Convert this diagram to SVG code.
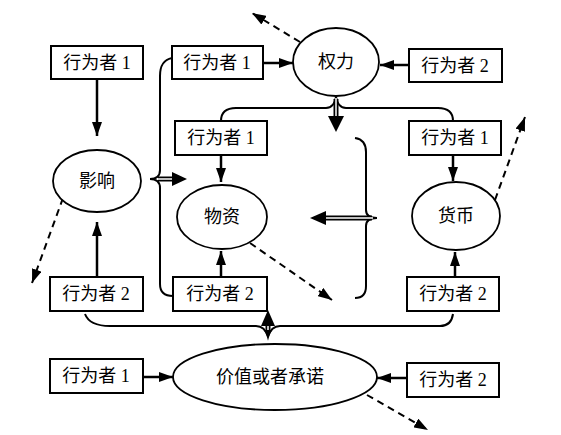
<svg xmlns="http://www.w3.org/2000/svg" width="561" height="435" viewBox="0 0 561 435">
<style>
rect.b{fill:#fff;stroke:#000;stroke-width:2}
ellipse.e{fill:#fff;stroke:#000;stroke-width:1.8}
text{font-family:"Liberation Serif","Noto Sans CJK SC",serif;font-size:18px;fill:#000;text-anchor:middle}
.a{stroke:#000;stroke-width:2.5;fill:none;marker-end:url(#ah)}
.d{stroke:#000;stroke-width:2;fill:none;stroke-dasharray:7,5;marker-end:url(#ah)}
.br{stroke:#000;stroke-width:2;fill:none}
.dbl{stroke:#000;stroke-width:5;fill:none}
.dbi{stroke:#fff;stroke-width:1.5;fill:none}
</style>
<defs>
<marker id="ah" viewBox="0 0 14 10" refX="14" refY="5" markerWidth="14" markerHeight="10" markerUnits="userSpaceOnUse" orient="auto"><path d="M0,0 L14,5 L0,10 z" fill="#000"/></marker>
</defs>
<rect width="561" height="435" fill="#fff"/>
<g id="connectors">
<line class="a" x1="97" y1="79" x2="97" y2="136"/>
<line class="a" x1="97" y1="277" x2="97" y2="222"/>
<line class="a" x1="263" y1="63" x2="293" y2="63"/>
<line class="a" x1="409" y1="65" x2="380" y2="65"/>
<line class="a" x1="221" y1="155" x2="221" y2="182"/>
<line class="a" x1="453" y1="155" x2="453" y2="181"/>
<line class="a" x1="221" y1="277" x2="221" y2="251"/>
<line class="a" x1="455" y1="277" x2="455" y2="252"/>
<line class="a" x1="143" y1="377" x2="173" y2="377"/>
<line class="a" x1="407" y1="378" x2="377" y2="378"/>
<line class="d" x1="300" y1="42" x2="252" y2="13"/>
<line class="d" x1="63" y1="198" x2="32" y2="283"/>
<line class="d" x1="250" y1="243" x2="332" y2="300"/>
<line class="d" x1="495" y1="200" x2="525" y2="117"/>
<line class="d" x1="367" y1="395" x2="428" y2="430"/>
<path class="br" d="M172,58 C163,60 160,66 160,76 L160,170 C160,176 156,179 150,179 C156,179 160,182 160,188 L160,284 C160,292 164,296 173,296"/>
<path class="br" d="M221,121 C221,112 226,108 236,108 L326,108 C331,108 335,104 336,97 C337,104 341,108 346,108 L438,108 C448,108 453,112 453,121"/>
<path class="br" d="M355,138 C362,139 366,143 366,152 L366,210 C366,215 370,218 377,218 C370,218 366,221 366,226 L366,286 C366,294 362,298 355,298"/>
<path class="br" d="M85,314 C88,322 96,326 110,326 L256,326 C262,326 266,330 268,337 C270,330 274,326 280,326 L440,326 C448,326 452,321 453,314"/>
<path class="dbl" d="M158,179 L173,179"/><path class="dbi" d="M157,179 L174,179"/>
<path d="M172,172 L187,179 L172,186 z" fill="#000"/>
<path class="dbl" d="M336,99 L336,118"/><path class="dbi" d="M336,98 L336,119"/>
<path d="M328,116 L336,132 L344,116 z" fill="#000"/>
<path class="dbl" d="M372,218 L325,218"/><path class="dbi" d="M373,218 L324,218"/>
<path d="M326,211 L310,218 L326,225 z" fill="#000"/>
<path class="dbl" d="M268,324 L268,332"/><path class="dbi" d="M268,323 L268,333"/>
<path d="M261,326 L268,310 L275,326 z" fill="#000"/>
<path d="M264,330 L268,338 L272,330 z" fill="#000"/>
</g>
<g id="actor1-a"><rect class="b" x="51" y="46" width="92" height="33"/><text x="97" y="69">行为者 1</text></g>
<g id="actor1-b"><rect class="b" x="172" y="46" width="91" height="33"/><text x="217" y="69">行为者 1</text></g>
<g id="power"><ellipse class="e" cx="336" cy="62" rx="43" ry="34"/><text x="336" y="68">权力</text></g>
<g id="actor2-c"><rect class="b" x="409" y="49" width="93" height="33"/><text x="455" y="72">行为者 2</text></g>
<g id="actor1-d"><rect class="b" x="175" y="121" width="92" height="34"/><text x="221" y="144">行为者 1</text></g>
<g id="actor1-e"><rect class="b" x="409" y="121" width="92" height="34"/><text x="455" y="144">行为者 1</text></g>
<g id="influence"><ellipse class="e" cx="97" cy="181" rx="44" ry="31"/><text x="97" y="187">影响</text></g>
<g id="goods"><ellipse class="e" cx="222" cy="217" rx="45" ry="32"/><text x="222" y="223">物资</text></g>
<g id="money"><ellipse class="e" cx="456" cy="216" rx="44" ry="34"/><text x="456" y="222">货币</text></g>
<g id="actor2-f"><rect class="b" x="50" y="277" width="93" height="34"/><text x="96" y="300">行为者 2</text></g>
<g id="actor2-g"><rect class="b" x="173" y="277" width="94" height="34"/><text x="220" y="300">行为者 2</text></g>
<g id="actor2-h"><rect class="b" x="407" y="277" width="92" height="34"/><text x="453" y="300">行为者 2</text></g>
<g id="actor1-i"><rect class="b" x="50" y="359" width="93" height="34"/><text x="96" y="382">行为者 1</text></g>
<g id="value"><ellipse class="e" cx="275" cy="377" rx="102" ry="33"/><text x="270" y="383">价值或者承诺</text></g>
<g id="actor2-j"><rect class="b" x="407" y="363" width="92" height="34"/><text x="453" y="386">行为者 2</text></g>
</svg>
